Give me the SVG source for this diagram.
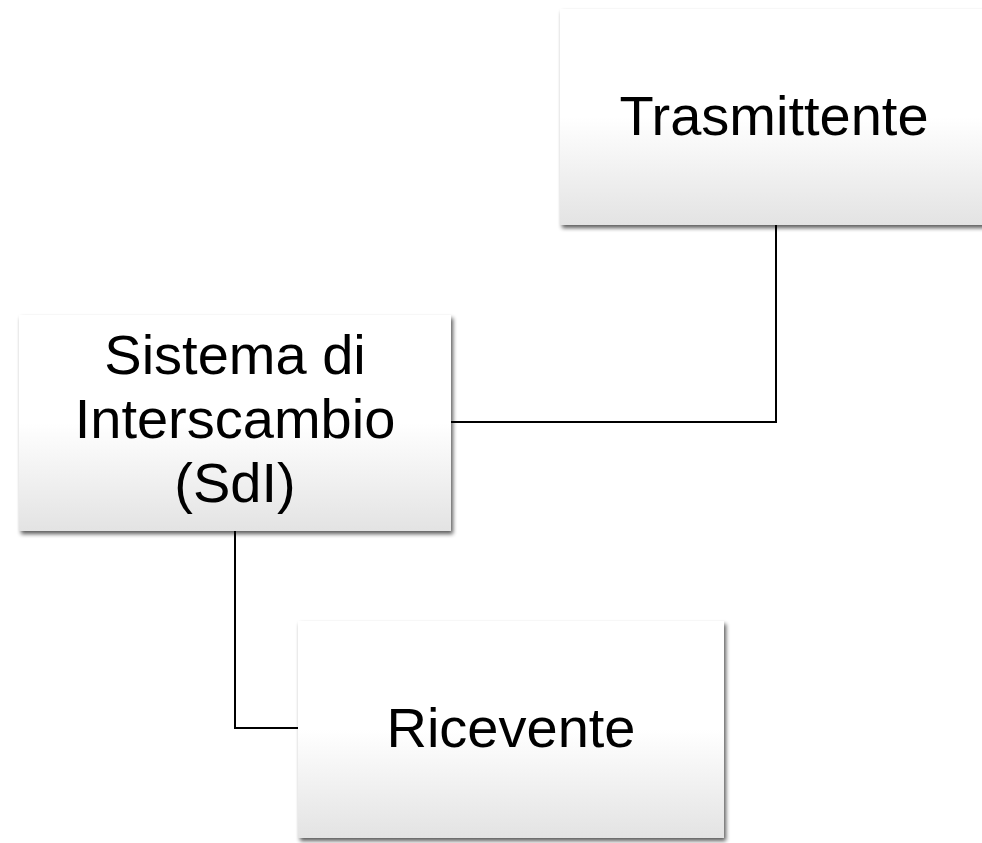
<svg xmlns="http://www.w3.org/2000/svg" width="982" height="843" viewBox="0 0 982 843">
<defs>
<linearGradient id="g" x1="0" y1="0" x2="0" y2="1">
<stop offset="0" stop-color="#ffffff"/>
<stop offset="0.5" stop-color="#ffffff"/>
<stop offset="1" stop-color="#e3e3e3"/>
</linearGradient>
<filter id="sh" x="-10%" y="-10%" width="125%" height="125%">
<feGaussianBlur in="SourceAlpha" stdDeviation="2.2"/>
<feOffset dx="2" dy="3" result="b"/>
<feComponentTransfer><feFuncA type="linear" slope="0.65"/></feComponentTransfer>
<feMerge><feMergeNode/><feMergeNode in="SourceGraphic"/></feMerge>
</filter>
<style>
.box{fill:url(#g);filter:url(#sh);}
.lbl{font-family:"Liberation Sans",Arial,sans-serif;font-size:56px;fill:#000;text-anchor:middle;}
.con{fill:none;stroke:#000;stroke-width:2;}
</style>
</defs>
<rect width="982" height="843" fill="#fff"/>
<g id="connectors">
<path class="con" d="M776,225 V422 H451"/>
<path class="con" d="M235,531 V728 H298"/>
</g>
<g id="trasmittente">
<rect class="box" x="560" y="9" width="432" height="216"/>
<text class="lbl" x="774" y="135">Trasmittente</text>
</g>
<g id="sdi">
<rect class="box" x="19" y="315" width="432" height="216"/>
<text class="lbl" x="235" y="374">Sistema di</text>
<text class="lbl" x="235" y="438">Interscambio</text>
<text class="lbl" x="235" y="502">(SdI)</text>
</g>
<g id="ricevente">
<rect class="box" x="298" y="621" width="426" height="217"/>
<text class="lbl" x="511" y="747">Ricevente</text>
</g>
</svg>
